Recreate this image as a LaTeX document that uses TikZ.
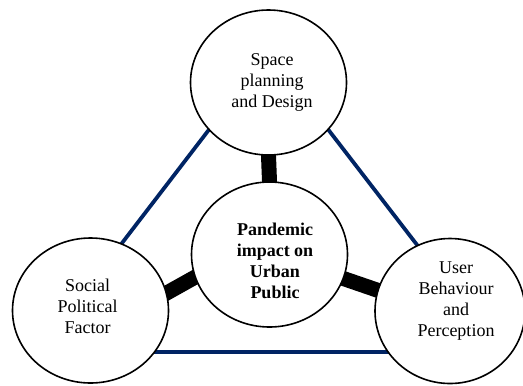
\documentclass[tikz,border=0pt]{standalone}
\usepackage{fontspec}
\setmainfont{Liberation Serif}
\usetikzlibrary{shapes.geometric,backgrounds}
\definecolor{navy}{RGB}{0,36,100}
\begin{document}
\begin{tikzpicture}[x=1bp,y=-1bp,
  bubble/.style={ellipse,draw=black,line width=1.6bp,fill=white,minimum width=156bp,minimum height=145bp,inner sep=0pt},
  lbl/.style={align=center,inner sep=0pt,font=\fontsize{18bp}{21bp}\selectfont},
  band/.style={line width=15bp,black,line cap=butt},
  side/.style={navy,line width=3.8bp}]
\useasboundingbox (0,0) rectangle (523,385);
\node[bubble] (T) at (268.5,82.5) {};
\node[bubble] (C) at (269.5,254.5) {};
\node[bubble] (L) at (90.5,310.5) {};
\node[bubble,minimum width=150bp] (R) at (450,311) {};
\coordinate (vT) at (268.5,52);
\coordinate (vL) at (38.5,352);
\coordinate (vR) at (499.5,352);
\node[lbl] (Tt) at (272,82.5) {Space\\planning\\and Design};
\node[lbl,font=\fontsize{18bp}{21bp}\selectfont\bfseries] (Ct) at (275,261) {Pandemic\\impact on\\Urban\\Public};
\node[lbl] (Lt) at (87.5,306) {Social\\Political\\Factor};
\node[lbl] (Rt) at (456,301.5) {User\\Behaviour\\and\\Perception};
\begin{scope}[on background layer]
  \draw[side] (vT) -- (vL) -- (vR) -- cycle;
  \draw[band,shorten <=-6bp,shorten >=-6bp] (T.south) -- (C.north);
  \draw[band,shorten <=-6bp,shorten >=-6bp] (C.197) -- (L.13);
  \draw[band,shorten <=-6bp,shorten >=-6bp] (C.342) -- (R.164);
\end{scope}
\end{tikzpicture}
\end{document}
